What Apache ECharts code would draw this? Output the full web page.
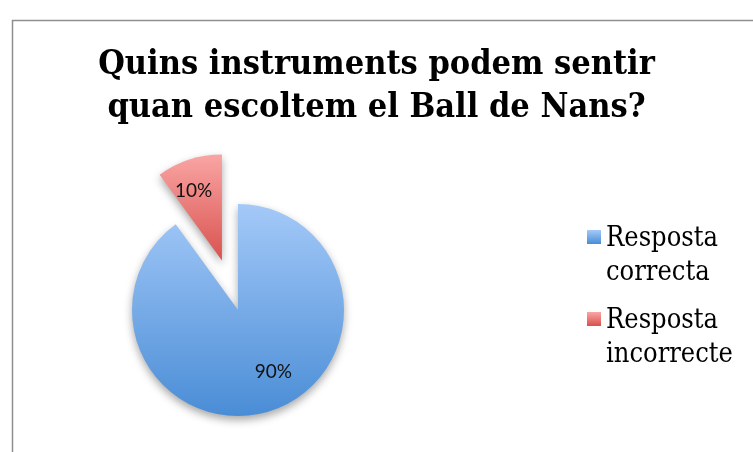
<!DOCTYPE html>
<html><head><meta charset="utf-8">
<script src="https://cdn.jsdelivr.net/npm/echarts@6/dist/echarts.min.js"></script>
<style>html,body{margin:0;padding:0;background:#fff}#c{width:753px;height:452px}</style>
</head><body><div id="c"></div>
<script>
const titleText = 'Quins instruments podem sentir\nquan escoltem el Ball de Nans?';
const categories = ['Resposta correcta', 'Resposta incorrecte'];
const values = [90, 10];
const topColors = ['#a4c9f8', '#f9a5a4'];
const bottomColors = ['#4a8dd6', '#d9524e'];
const labelShift = [[18, 9], [-11, -16]];

const chart = echarts.init(document.getElementById('c'));
function grad(i, a, b) {
  return new echarts.graphic.LinearGradient(0, 0, 0, 1, [
    {offset: a, color: topColors[i]}, {offset: b, color: bottomColors[i]}
  ]);
}
chart.setOption({
  animation: false,
  graphic: [{
    type: 'rect', left: 10, top: 18,
    shape: {width: 800, height: 500},
    style: {fill: 'none', stroke: '#8e8e8e', lineWidth: 1.5}, z: -1
  }],
  title: {
    text: titleText, left: 'center', top: 39,
    textStyle: {fontFamily: 'DejaVu Serif Condensed', fontWeight: 'bold', fontSize: 34, lineHeight: 43, color: '#000'}
  },
  legend: {
    orient: 'vertical', left: 582, top: 217,
    itemWidth: 14, itemHeight: 68, itemGap: 14,
    icon: 'path://M0,0L0.01,0M0,8h14v14h-14zM0,68L0.01,68',
    data: categories.map((n, i) => ({name: n, itemStyle: {color: grad(i, 0.12, 0.32), borderWidth: 0}})),
    formatter: n => n.replace(' ', '\n'),
    textStyle: {fontFamily: 'DejaVu Serif Condensed', fontSize: 27, lineHeight: 34, color: '#000'}
  },
  series: [{
    type: 'pie',
    center: [238, 310], radius: 106,
    startAngle: 90, clockwise: true,
    selectedMode: 'single', selectedOffset: 52,
    label: {
      show: true, position: 'inside', formatter: '{d}%',
      fontFamily: 'Lato', fontSize: 19, color: '#111'
    },
    labelLine: {show: false},
    labelLayout: p => ({dx: labelShift[p.dataIndex][0], dy: labelShift[p.dataIndex][1]}),
    emphasis: {disabled: true},
    itemStyle: {shadowBlur: 8, shadowOffsetY: 4, shadowColor: 'rgba(0,0,0,0.35)'},
    data: categories.map((n, i) => ({
      name: n, value: values[i], selected: i === 1,
      itemStyle: {color: grad(i, 0, 1)},
      select: {itemStyle: {color: grad(i, 0, 1)}}
    }))
  }]
});
</script></body></html>
